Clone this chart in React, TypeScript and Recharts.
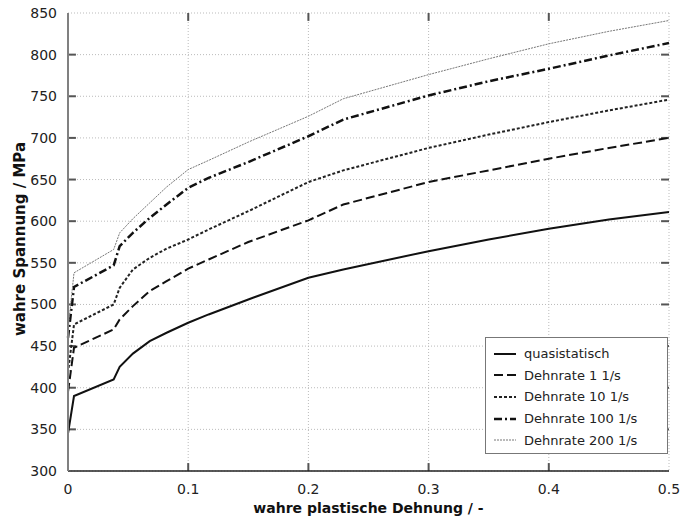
import { LineChart, Line, XAxis, YAxis, CartesianGrid, ReferenceLine } from "recharts";

// wahre plastische Dehnung
const strain = [0, 0.005, 0.038, 0.043, 0.054, 0.068, 0.082, 0.1, 0.117, 0.15, 0.2, 0.229, 0.3, 0.35, 0.4, 0.45, 0.5];

// wahre Spannung / MPa
const quasistatisch = [345, 390, 410, 425, 441, 456, 466, 478, 488, 506, 532, 542, 564, 578, 591, 602, 611];
const rate1 = [395, 448, 470, 482, 498, 516, 528, 543, 554, 575, 601, 620, 647, 661, 675, 688, 700];
const rate10 = [418, 476, 500, 520, 542, 556, 567, 578, 590, 612, 647, 661, 688, 704, 719, 733, 746];
const rate100 = [460, 521, 547, 570, 586, 604, 620, 640, 652, 671, 702, 722, 751, 768, 783, 799, 814];
const rate200 = [470, 538, 566, 586, 603, 622, 641, 662, 673, 695, 726, 747, 776, 795, 813, 828, 841];

const xTicks = [0, 0.1, 0.2, 0.3, 0.4, 0.5];
const yTicks = [300, 350, 400, 450, 500, 550, 600, 650, 700, 750, 800, 850];

const series = [
  { key: "q", name: "quasistatisch", values: quasistatisch, color: "#111", width: 2, dash: undefined as string | undefined },
  { key: "r1", name: "Dehnrate 1 1/s", values: rate1, color: "#111", width: 2, dash: "9 4" },
  { key: "r10", name: "Dehnrate 10 1/s", values: rate10, color: "#222", width: 2, dash: "3 2" },
  { key: "r100", name: "Dehnrate 100 1/s", values: rate100, color: "#111", width: 2.5, dash: "8 3 2 3" },
  { key: "r200", name: "Dehnrate 200 1/s", values: rate200, color: "#777", width: 1, dash: "2 1" },
];

const data = strain.map((s, i) => {
  const row: any = { strain: s };
  series.forEach((se) => (row[se.key] = se.values[i]));
  return row;
});

const FONT = "'DejaVu Sans', Verdana, sans-serif";
// length of the inner tick marks, in axis units
const MARK_X = 0.0066;
const MARK_Y = 9.5;
const markColor = "#555";

const LegendBox = () => (
  <div
    style={{
      position: "absolute",
      left: 485,
      top: 337,
      border: "1px solid #777",
      background: "#fff",
      width: 183,
      height: 117,
      boxSizing: "border-box",
      paddingTop: 5,
      fontFamily: FONT,
      fontSize: 13,
      color: "#222",
    }}
  >
    {series.map((s) => (
      <div key={s.key} style={{ display: "flex", alignItems: "center", height: 21.6 }}>
        <svg width={38} height={10} style={{ flex: "none" }}>
          <line x1={8} x2={30} y1={5} y2={5} stroke={s.color} strokeWidth={s.width} strokeDasharray={s.dash} />
        </svg>
        <span>{s.name}</span>
      </div>
    ))}
  </div>
);

export default function App() {
  const innerX = xTicks.slice(1, -1);
  const innerY = yTicks.slice(1, -1);
  return (
    <div style={{ position: "absolute", left: 0, top: 0, width: 682, height: 518, background: "#fff" }}>
      <LineChart
        width={682}
        height={518}
        data={data}
        margin={{ top: 13, right: 13, left: 8, bottom: 0 }}
      >
        <CartesianGrid stroke="#bbb" strokeDasharray="1 2" />
        <XAxis
          xAxisId="top"
          orientation="top"
          type="number"
          domain={[0, 0.5]}
          ticks={xTicks}
          height={0}
          stroke="#999"
          strokeWidth={1.5}
          tick={false}
          tickLine={false}
        />
        <YAxis
          yAxisId="right"
          orientation="right"
          type="number"
          domain={[300, 850]}
          allowDataOverflow
          ticks={yTicks}
          width={0}
          stroke="#999"
          strokeWidth={1.5}
          tick={false}
          tickLine={false}
        />
        <XAxis
          dataKey="strain"
          type="number"
          domain={[0, 0.5]}
          ticks={xTicks}
          height={47}
          stroke="#222"
          strokeWidth={1.5}
          tickSize={0}
          tickMargin={13}
          tick={{ fill: "#222", fontSize: 14, fontFamily: FONT }}
          tickLine={false}
          label={{
            content: (p: any) => (
              <text
                x={p.viewBox.x + p.viewBox.width / 2}
                y={513}
                textAnchor="middle"
                fontFamily={FONT}
                fontSize={14}
                fontWeight="bold"
                fill="#111"
              >
                wahre plastische Dehnung / -
              </text>
            ),
          }}
        />
        <YAxis
          type="number"
          domain={[300, 850]}
          ticks={yTicks}
          width={60}
          stroke="#808080"
          strokeWidth={2}
          tickSize={0}
          tickMargin={11}
          tick={{ fill: "#222", fontSize: 14, fontFamily: FONT }}
          tickLine={false}
          label={{
            content: () => {
              const cx = 20;
              const cy = 239;
              return (
                <text
                  x={cx}
                  y={cy}
                  transform={`rotate(-90 ${cx} ${cy})`}
                  textAnchor="middle"
                  dominantBaseline="central"
                  fontFamily={FONT}
                  fontSize={15}
                  fontWeight="bold"
                  fill="#111"
                >
                  wahre Spannung / MPa
                </text>
              );
            },
          }}
        />
        {innerX.map((t) => (
          <ReferenceLine key={`b${t}`} segment={[{ x: t, y: 300 }, { x: t, y: 300 + MARK_Y }]} stroke={markColor} strokeWidth={2} />
        ))}
        {innerX.map((t) => (
          <ReferenceLine key={`t${t}`} segment={[{ x: t, y: 850 }, { x: t, y: 850 - MARK_Y }]} stroke={markColor} strokeWidth={2} />
        ))}
        {innerY.map((t) => (
          <ReferenceLine key={`l${t}`} segment={[{ x: 0, y: t }, { x: MARK_X, y: t }]} stroke={markColor} strokeWidth={2} />
        ))}
        {innerY.map((t) => (
          <ReferenceLine key={`r${t}`} segment={[{ x: 0.5, y: t }, { x: 0.5 - MARK_X, y: t }]} stroke={markColor} strokeWidth={2} />
        ))}
        {series.map((s) => (
          <Line
            key={s.key}
            dataKey={s.key}
            name={s.name}
            type="linear"
            stroke={s.color}
            strokeWidth={s.width}
            strokeDasharray={s.dash}
            dot={false}
            isAnimationActive={false}
          />
        ))}
      </LineChart>
      <LegendBox />
    </div>
  );
}
